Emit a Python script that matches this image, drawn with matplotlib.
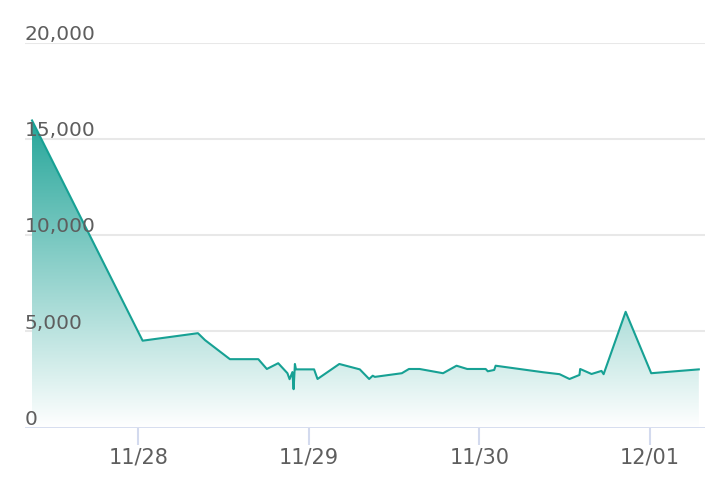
import numpy as np
import pandas as pd
import matplotlib
matplotlib.use("Agg")
import matplotlib.pyplot as plt
import matplotlib.dates as mdates
from matplotlib.colors import LinearSegmentedColormap

# values
times = [
    "2023-11-27 09:03", "2023-11-28 00:37", "2023-11-28 08:24", "2023-11-28 09:24",
    "2023-11-28 12:54", "2023-11-28 16:54", "2023-11-28 18:06", "2023-11-28 19:42",
    "2023-11-28 21:00", "2023-11-28 21:18", "2023-11-28 21:42", "2023-11-28 21:52",
    "2023-11-28 22:03", "2023-11-28 22:12", "2023-11-29 00:45", "2023-11-29 01:14",
    "2023-11-29 04:18", "2023-11-29 07:11", "2023-11-29 08:30", "2023-11-29 09:00",
    "2023-11-29 09:18", "2023-11-29 13:06", "2023-11-29 14:06", "2023-11-29 15:36",
    "2023-11-29 18:54", "2023-11-29 20:48", "2023-11-29 22:18", "2023-11-30 00:54",
    "2023-11-30 01:12", "2023-11-30 02:06", "2023-11-30 02:18", "2023-11-30 09:00",
    "2023-11-30 11:18", "2023-11-30 12:42", "2023-11-30 14:06", "2023-11-30 14:12",
    "2023-11-30 15:48", "2023-11-30 17:12", "2023-11-30 17:30", "2023-11-30 20:36",
    "2023-12-01 00:12", "2023-12-01 06:54",
]
values = [
    15960, 4520, 4910, 4550,
    3560, 3560, 3050, 3350,
    2830, 2520, 2890, 2000,
    3310, 3030, 3030, 2530,
    3310, 3030, 2530, 2700,
    2640, 2830, 3050, 3050,
    2830, 3220, 3050, 3050,
    2930, 3000, 3220, 2880,
    2780, 2530, 2740, 3050,
    2790, 2950, 2780, 6020,
    2830, 3030,
]
tick_days = ["2023-11-28", "2023-11-29", "2023-11-30", "2023-12-01"]
y_ticks = [0, 5000, 10000, 15000, 20000]

x = mdates.date2num(pd.to_datetime(times))
y = np.array(values)

fig = plt.figure(figsize=(7.14, 4.92), dpi=100)
ax = fig.add_axes([0.035, 0.1307, 0.952, 0.7825])

line_col = "#17a194"
grid_col = "#e8e8e8"
axis_col = "#d3daee"
text_col = "#5e5e5e"

x0 = mdates.date2num(pd.Timestamp("2023-11-28")) - 15.94 / 24
x1 = mdates.date2num(pd.Timestamp("2023-11-28")) + 79.73 / 24

# gradient fill under the line, clipped to the area polygon
cmap = LinearSegmentedColormap.from_list("fade", ["#ffffff", "#26a69a"])
grad = np.linspace(0, 1, 256).reshape(-1, 1)
img = ax.imshow(grad, cmap=cmap, aspect="auto", origin="lower",
                extent=[x[0], x[-1], 0, y.max()], zorder=1)
poly = ax.fill_between(x, y, 0, color="none")
path = poly.get_paths()[0]
img.set_clip_path(path, transform=ax.transData)
ax.set_xlim(x0, x1)
ax.set_ylim(0, 20000)

ax.plot(x, y, color=line_col, lw=1.5, zorder=3)

for v in y_ticks[1:]:
    ax.axhline(v, color=grid_col, lw=1.5, zorder=0)
ax.axhline(0, color=axis_col, lw=2, zorder=4)

for s in ax.spines.values():
    s.set_visible(False)

ax.set_yticks([])
for v in y_ticks:
    ax.text(0.0, v + 150, f"{v:,}", transform=ax.get_yaxis_transform(),
            ha="left", va="baseline", fontsize=14.5, color=text_col, zorder=5)

ax.set_xticks(mdates.date2num(pd.to_datetime(tick_days)))
ax.xaxis.set_major_formatter(mdates.DateFormatter("%m/%d"))
ax.tick_params(axis="x", length=12, width=1.5, color=axis_col,
               labelsize=15, labelcolor=text_col, pad=2)

fig.savefig("out.png", dpi=100, facecolor="white")
